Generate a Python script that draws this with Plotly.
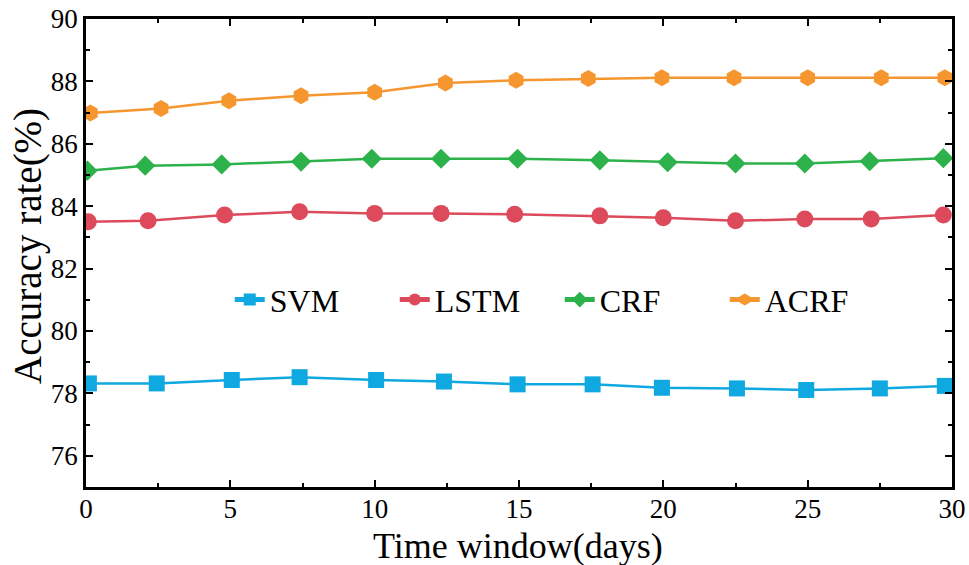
import plotly.graph_objects as go

# Data
svm_x = [0.1, 2.45, 5.05, 7.4, 10.05, 12.4, 14.95, 17.55, 19.95, 22.55, 24.95, 27.5, 29.75]
svm_y = [78.32, 78.32, 78.43, 78.52, 78.43, 78.38, 78.29, 78.29, 78.18, 78.16, 78.11, 78.16, 78.24]

lstm_x = [0.08, 2.15, 4.8, 7.4, 10.0, 12.3, 14.85, 17.8, 20.0, 22.5, 24.9, 27.2, 29.7]
lstm_y = [83.50, 83.53, 83.72, 83.82, 83.77, 83.77, 83.74, 83.69, 83.63, 83.53, 83.59, 83.59, 83.72]

crf_x = [0.05, 2.05, 4.7, 7.45, 9.9, 12.3, 14.95, 17.8, 20.15, 22.5, 24.9, 27.15, 29.7]
crf_y = [85.14, 85.30, 85.34, 85.43, 85.52, 85.52, 85.52, 85.47, 85.41, 85.37, 85.37, 85.44, 85.54]

acrf_x = [0.15, 2.6, 4.95, 7.45, 10.0, 12.45, 14.9, 17.4, 19.95, 22.45, 25.0, 27.55, 29.75]
acrf_y = [86.99, 87.13, 87.38, 87.54, 87.65, 87.95, 88.04, 88.09, 88.12, 88.12, 88.12, 88.12, 88.12]

series_names = ["SVM", "LSTM", "CRF", "ACRF"]
x_ticks = [0, 5, 10, 15, 20, 25, 30]
y_ticks = [76, 78, 80, 82, 84, 86, 88, 90]
x_title = "Time window(days)"
y_title = "Accuracy rate(%)"

FONT = "Liberation Serif, Times New Roman, serif"

styles = [
    dict(color="#0fa8e0", symbol="square", size=16),
    dict(color="#dc4a5b", symbol="circle", size=17),
    dict(color="#2db14b", symbol="diamond", size=15.5),
    dict(color="#f5962f", symbol="hexagon", size=17),
]

fig = go.Figure()
for name, xs, ys, st in zip(series_names,
                            [svm_x, lstm_x, crf_x, acrf_x],
                            [svm_y, lstm_y, crf_y, acrf_y],
                            styles):
    fig.add_trace(go.Scatter(
        x=xs, y=ys, name=name, mode="lines+markers",
        line=dict(color=st["color"], width=2.5),
        marker=dict(color=st["color"], symbol=st["symbol"], size=st["size"],
                    line=dict(width=0)),
    ))

axis_common = dict(
    showgrid=False, zeroline=False, automargin=False,
    showline=True, linecolor="black", linewidth=2.5,
    mirror="ticks", ticks="inside", ticklen=7, tickwidth=2, tickcolor="black",
    tickfont=dict(family=FONT, size=27, color="black"),
    ticklabeloverflow="allow",
)

fig.update_xaxes(
    range=[0, 30], tickvals=x_ticks, ticktext=[str(v) for v in x_ticks],
    minor=dict(ticks="inside", ticklen=4, tickwidth=2, dtick=2.5, tick0=0, tickcolor="black"),
    ticklabelstandoff=-4,
    **axis_common,
)
fig.update_yaxes(
    range=[75, 90], tickvals=y_ticks, ticktext=[str(v) for v in y_ticks],
    minor=dict(ticks="inside", ticklen=4, tickwidth=2, dtick=1, tick0=75, tickcolor="black"),
    **axis_common,
)

fig.add_annotation(
    text=y_title, textangle=-90, showarrow=False,
    xref="paper", yref="paper", x=-0.067, y=0.515,
    xanchor="center", yanchor="middle",
    font=dict(family=FONT, size=39, color="black"),
)
fig.add_annotation(
    text=x_title, showarrow=False,
    xref="paper", yref="paper", x=0.499, y=-0.127,
    xanchor="center", yanchor="middle",
    font=dict(family=FONT, size=36, color="black"),
)

fig.update_layout(
    width=969, height=565,
    margin=dict(l=86, r=17, t=19, b=78),
    plot_bgcolor="white", paper_bgcolor="white",
    font=dict(family=FONT, color="black"),
    legend=dict(
        orientation="h", x=0.166, xanchor="left", y=0.40, yanchor="middle",
        font=dict(family=FONT, size=32, color="black"),
        bgcolor="rgba(0,0,0,0)", itemsizing="constant",
        entrywidth=120, entrywidthmode="pixels",
    ),
)

# remove the browser's default 8px body margin so the figure fills the window
fig.write_html(
    "out.html",
    config={"displayModeBar": False},
    post_script="document.body.style.margin='0';document.body.style.overflow='hidden';",
)
